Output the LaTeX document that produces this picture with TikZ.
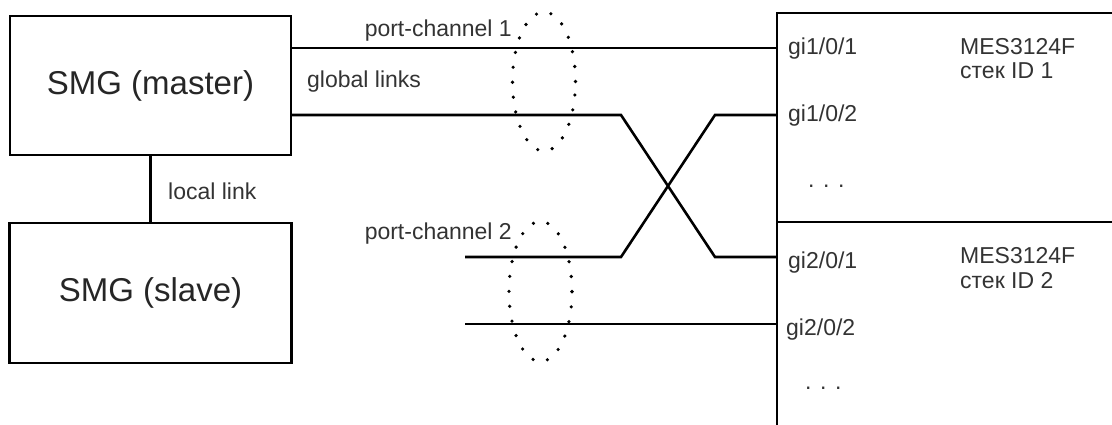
\documentclass[tikz,border=0pt]{standalone}
\usepackage{fontspec}
\setmainfont{Liberation Sans}
\usetikzlibrary{shapes.geometric}

\tikzset{
  box/.style={draw, line width=2.6pt, inner sep=0pt, outer sep=0pt, font=\fontsize{33}{40}\selectfont, text=black!85},
  wire/.style={line width=2.6pt},
  lbl/.style={inner sep=0pt, font=\fontsize{23}{26}\selectfont, text=black!80},
  bundle/.style={draw, ellipse, line width=3.6pt, dash pattern=on 0pt off 15pt, line cap=round, inner sep=0pt}
}

\begin{document}
\begin{tikzpicture}[x=1pt, y=-1pt]
  \useasboundingbox (0,0) rectangle (1112,425);

  % SMG boxes
  \node[box, minimum width=281, minimum height=139] (master) at (150.5,85.5) {SMG (master)};
  \node[box, minimum width=282, minimum height=140] (slave) at (150.5,293) {SMG (slave)};

  % Switch stack (runs off the right and bottom edge)
  \node[box, minimum width=360, minimum height=209, anchor=north west] (sw1) at (777,13) {};
  \node[box, minimum width=360, minimum height=230, anchor=north west] (sw2) at (777,222) {};

  % Ports and free ends
  \coordinate (p11) at (777,48);
  \coordinate (p12) at (777,115);
  \coordinate (p21) at (777,257);
  \coordinate (p22) at (777,324);
  \coordinate (s1) at (465,257);
  \coordinate (s2) at (465,324);

  % Links
  \draw[wire] (master.south) -- (slave.north);
  \draw[wire] (master.east |- p11) -- (p11);
  \draw[wire] (master.east |- p12) -- (621,115) -- (715,257) -- (p21);
  \draw[wire] (s1) -- (621,257) -- (715,115) -- (p12);
  \draw[wire] (s2) -- (p22);

  % Port-channel bundles
  \node[bundle, minimum width=63, minimum height=139] (pc1) at (544,81.5) {};
  \node[bundle, minimum width=63, minimum height=140] (pc2) at (540.5,291.5) {};

  % Labels
  \node[lbl, anchor=base east] (pc1lbl) at (512,37) {port-channel 1};
  \node[lbl, anchor=base east] (pc2lbl) at (512,240) {port-channel 2};
  \node[lbl, anchor=base west] (globlbl) at (307,88) {global links};
  \node[lbl, anchor=base west] (loclbl) at (168,200) {local link};

  % Port names
  \node[lbl, anchor=base west] (gi11) at (788,55) {gi1/0/1};
  \node[lbl, anchor=base west] (gi12) at (788,122) {gi1/0/2};
  \node[lbl, anchor=base west] (more1) at (808,188) {. . .};
  \node[lbl, anchor=base west] (gi21) at (788,268) {gi2/0/1};
  \node[lbl, anchor=base west] (gi22) at (786,335) {gi2/0/2};
  \node[lbl, anchor=base west] (more2) at (805,389) {. . .};

  % Stack units
  \node[lbl, anchor=base west] (name1) at (960,55) {MES3124F};
  \node[lbl, anchor=base west] (id1) at (960,79) {стек ID 1};
  \node[lbl, anchor=base west] (name2) at (960,263) {MES3124F};
  \node[lbl, anchor=base west] (id2) at (960,288) {стек ID 2};
\end{tikzpicture}
\end{document}
